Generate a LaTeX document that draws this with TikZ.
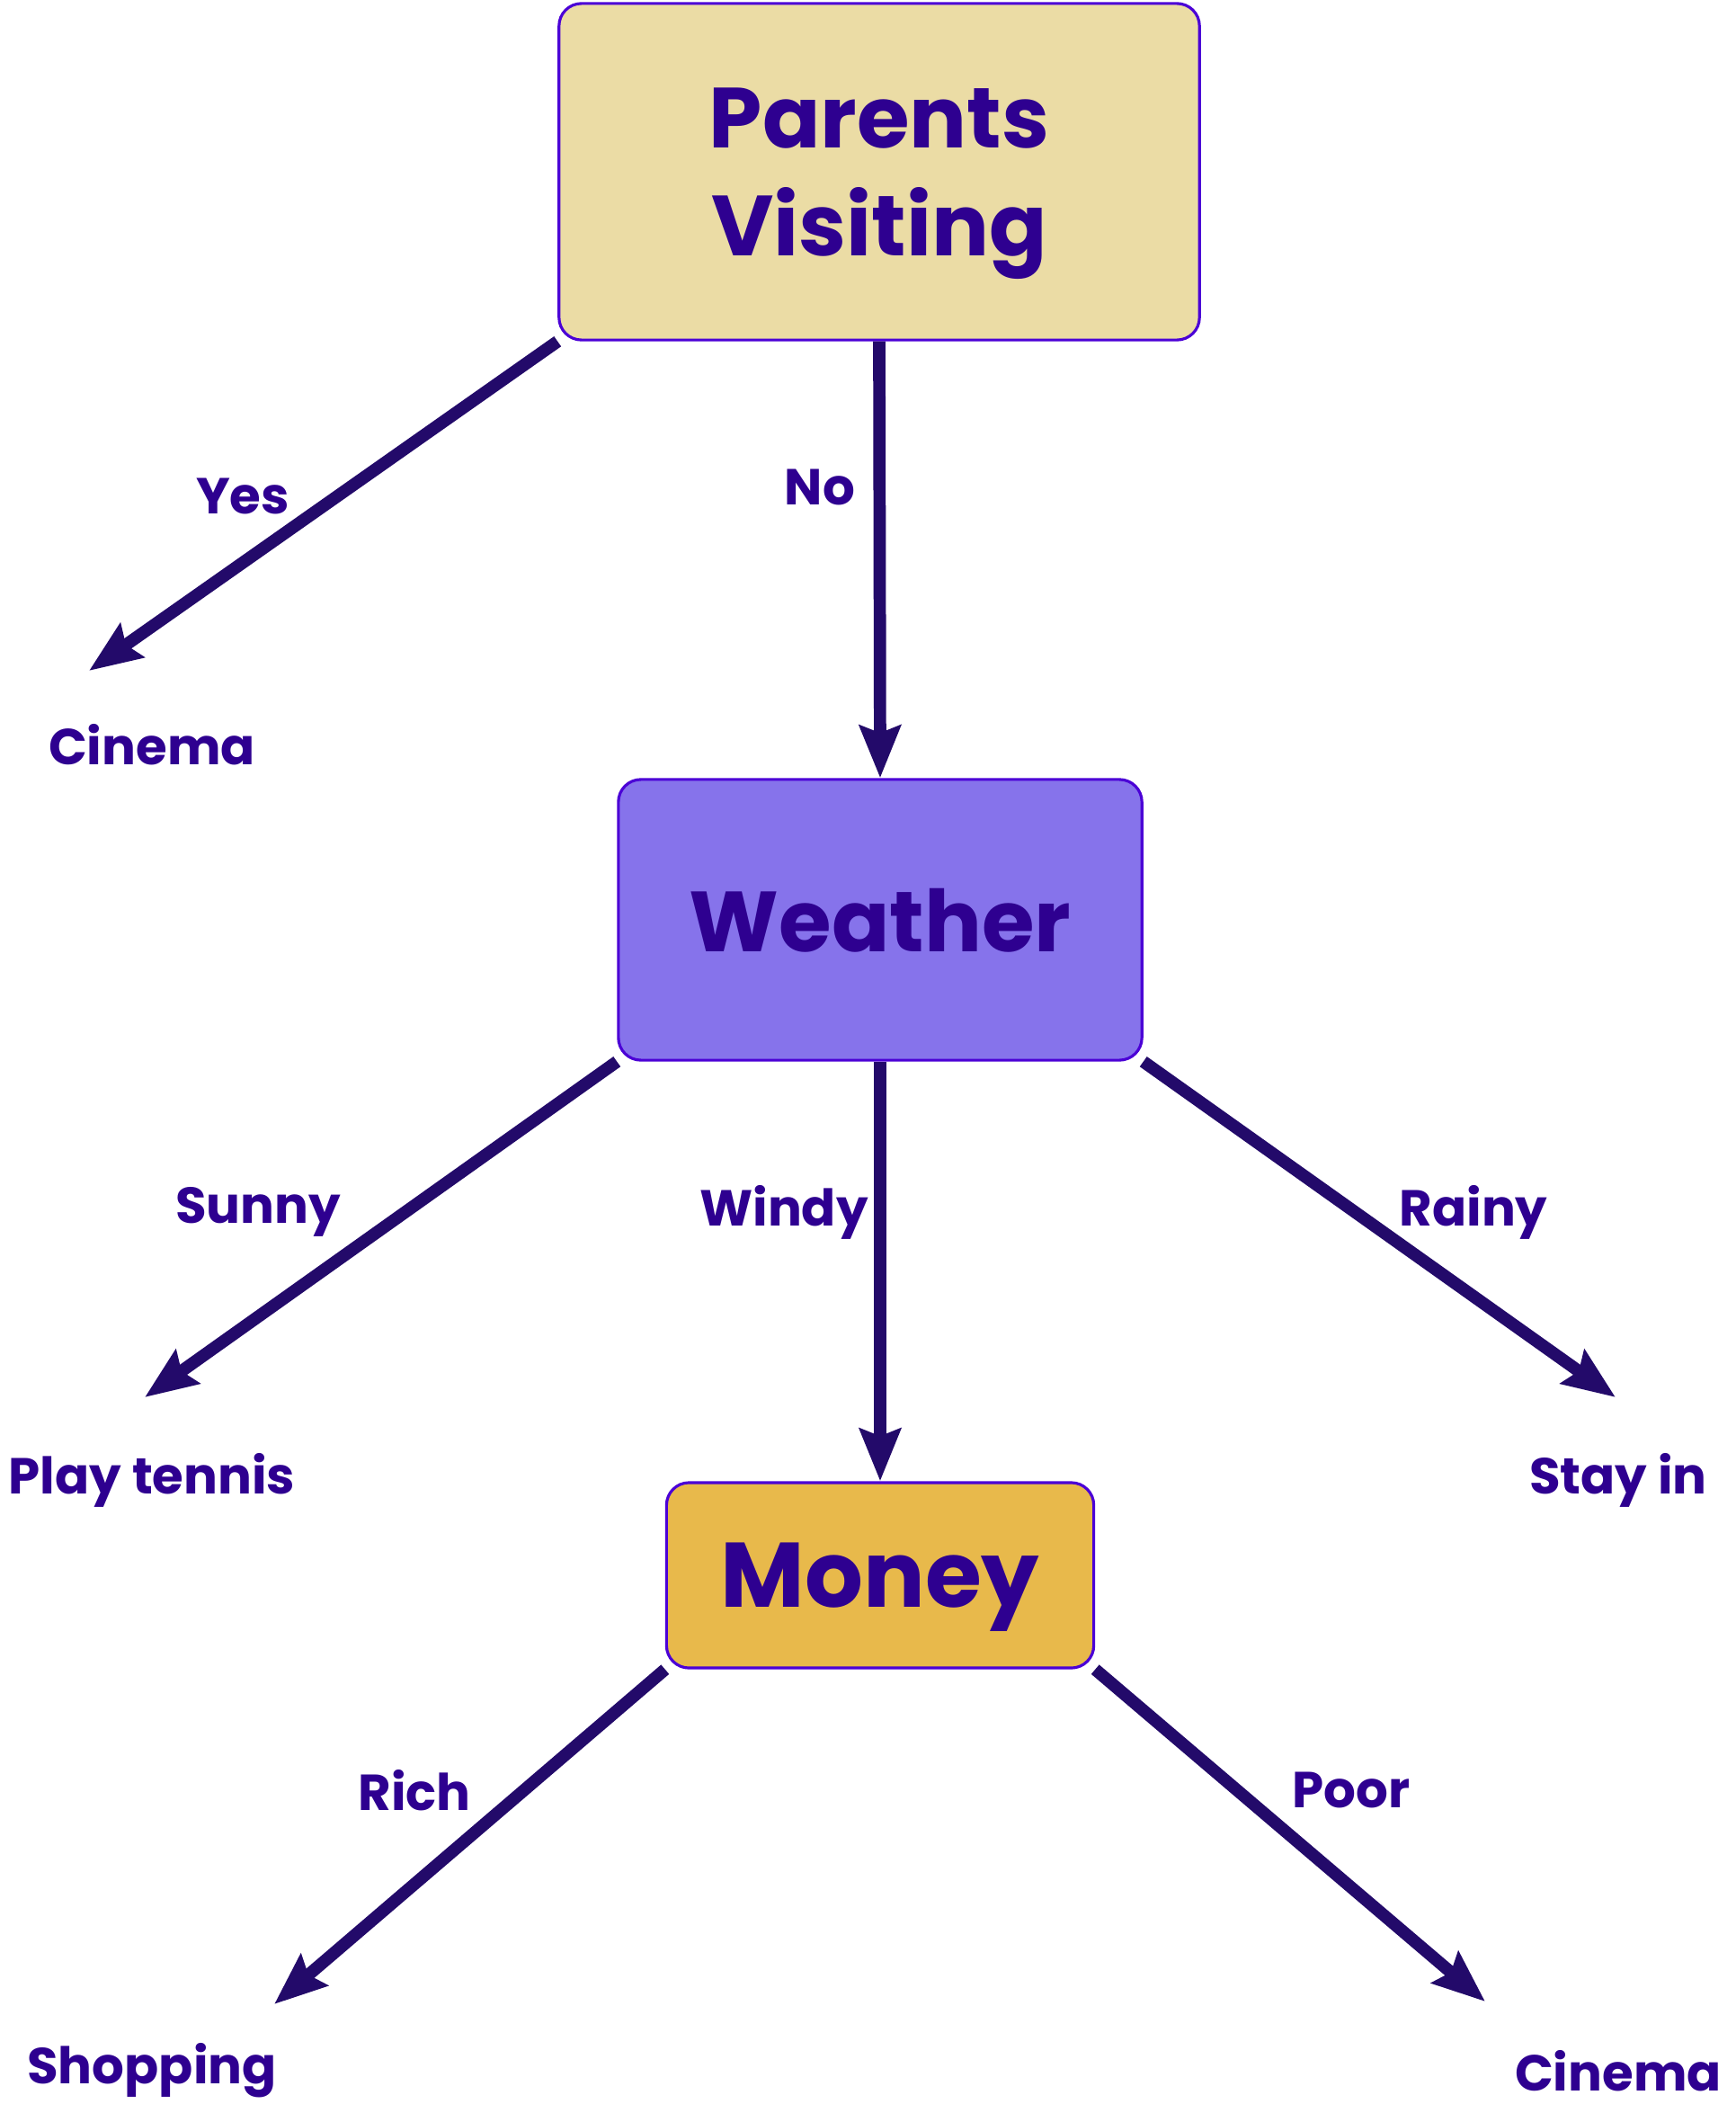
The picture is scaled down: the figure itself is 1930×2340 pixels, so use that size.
\documentclass[tikz,border=0pt]{standalone}
\usepackage{fontspec}
\setmainfont{Poppins}
\usetikzlibrary{arrows.meta}
\definecolor{ink}{HTML}{2E0090}
\definecolor{arrowc}{HTML}{230A6A}
\definecolor{edgec}{HTML}{4B00D6}
\definecolor{sand}{HTML}{EBDCA5}
\definecolor{lilac}{HTML}{8673EB}
\definecolor{gold}{HTML}{E8B94B}

\begin{document}
\begin{tikzpicture}[x=0.01cm,y=-0.01cm,
	box/.style={draw=edgec,line width=0.9pt,rounded corners=0.25cm,text=ink,align=center,inner sep=0pt,text depth=0pt,font=\fontsize{27}{34}\selectfont\bfseries},
	leaf/.style={text=ink,inner sep=0pt,font=\fontsize{16}{16}\selectfont\bfseries},
	arr/.style={draw=arrowc,line width=3.9pt,-{Stealth[length=0.58cm,width=0.45cm,inset=0.08cm]}}]
	\useasboundingbox (0,0) rectangle (1930,2340);
	\node[box,fill=sand,minimum width=7.12cm,minimum height=3.74cm] (pv) at (978,191) {Parents\\Visiting};
	\node[box,fill=lilac,minimum width=5.82cm,minimum height=3.12cm] (weather) at (979,1023) {Weather};
	\node[box,fill=gold,minimum width=4.75cm,minimum height=2.06cm,font=\fontsize{29}{34}\selectfont\bfseries] (money) at (979,1752) {Money};
	\node[leaf] (cinema1) at (169,828) {Cinema};
	\node[leaf] (tennis) at (169,1646) {Play tennis};
	\node[leaf] (stayin) at (1800,1646) {Stay in};
	\node[leaf] (shopping) at (169,2303) {Shopping};
	\node[leaf] (cinema2) at (1800,2303) {Cinema};
	\coordinate (yestip) at (99,746);
	\coordinate (sunnytip) at (161,1554);
	\coordinate (rainytip) at (1797,1554);
	\coordinate (richtip) at (305,2229);
	\coordinate (poortip) at (1652,2226);
	\draw[arr] (pv.south west) -- (yestip);
	\draw[arr] (pv.south) -- (weather.north);
	\draw[arr] (weather.south west) -- (sunnytip);
	\draw[arr] (weather.south) -- (money.north);
	\draw[arr] (weather.south east) -- (rainytip);
	\draw[arr] (money.south west) -- (richtip);
	\draw[arr] (money.south east) -- (poortip);
	\node[leaf] (yes) at (270,552) {Yes};
	\node[leaf] (no) at (912,542) {No};
	\node[leaf] (sunny) at (287,1348) {Sunny};
	\node[leaf] (windy) at (872,1348) {Windy};
	\node[leaf] (rainy) at (1639,1348) {Rainy};
	\node[leaf] (rich) at (461,1991) {Rich};
	\node[leaf] (poor) at (1503,1991) {Poor};
\end{tikzpicture}
\end{document}
